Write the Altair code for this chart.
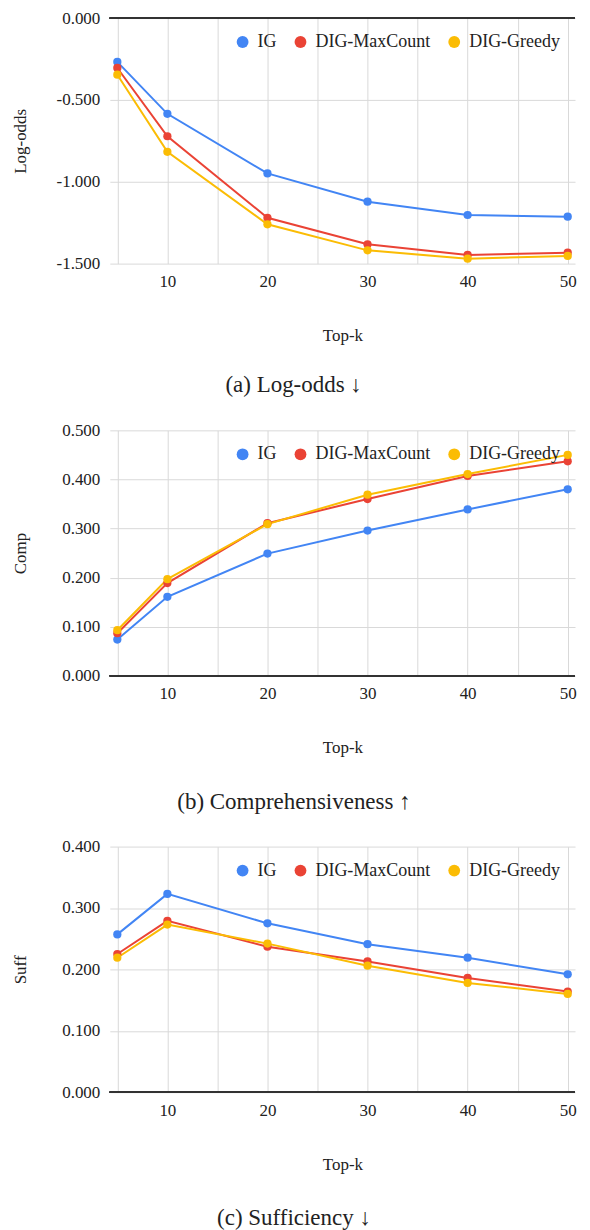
import altair as alt
import pandas as pd

topk = [5, 10, 20, 30, 40, 50]
methods = ["IG", "DIG-MaxCount", "DIG-Greedy"]
colors = ["#4285F4", "#EA4335", "#FBBC04"]

logodds_ig = [-0.268, -0.585, -0.949, -1.122, -1.203, -1.213]
logodds_maxcount = [-0.305, -0.722, -1.220, -1.382, -1.447, -1.433]
logodds_greedy = [-0.346, -0.817, -1.260, -1.419, -1.470, -1.453]

comp_ig = [0.074, 0.161, 0.249, 0.296, 0.339, 0.380]
comp_maxcount = [0.087, 0.189, 0.311, 0.360, 0.407, 0.437]
comp_greedy = [0.093, 0.197, 0.309, 0.369, 0.411, 0.450]

suff_ig = [0.257, 0.323, 0.275, 0.241, 0.219, 0.192]
suff_maxcount = [0.225, 0.279, 0.237, 0.213, 0.186, 0.164]
suff_greedy = [0.219, 0.273, 0.242, 0.206, 0.178, 0.160]

x_grid_values = [5, 10, 15, 20, 25, 30, 35, 40, 45, 50]

FONT = "'Liberation Serif', 'Times New Roman', 'DejaVu Serif', 'DejaVu Sans', serif"
TEXT = "#222222"
GRID = "#d9d9d9"


def make_df(ig, mc, gr):
    rows = []
    for name, vals in zip(methods, [ig, mc, gr]):
        for k, v in zip(topk, vals):
            rows.append({"k": k, "v": v, "method": name})
    return pd.DataFrame(rows)


def panel(df, ytitle, ydomain, yvalues, caption, title_pad, legend_x, cap_offset):
    x = alt.X(
        "k:Q",
        scale=alt.Scale(domain=[4.25, 50.73], nice=False, zero=False),
        axis=alt.Axis(
            values=x_grid_values,
            labelExpr="datum.value % 10 == 0 ? format(datum.value, 'd') : ''",
            title="Top-k",
            ticks=False,
            domain=False,
            grid=True,
            gridColor=GRID,
            labelPadding=10,
            titlePadding=38,
        ),
    )
    y = alt.Y(
        "v:Q",
        scale=alt.Scale(domain=ydomain, nice=False, zero=False),
        axis=alt.Axis(
            values=yvalues,
            labelExpr="replace(format(datum.value, '.3f'), '\u2212', '-')",
            title=ytitle,
            ticks=False,
            domain=False,
            grid=True,
            gridColor=GRID,
            labelPadding=10,
            titlePadding=title_pad,
        ),
    )
    color_scale = alt.Scale(domain=methods, range=colors)
    base = alt.Chart(df)
    zero = base.mark_rule(color="#333333", strokeWidth=1.3).encode(y=alt.datum(0))
    lines = base.mark_line(strokeWidth=2).encode(
        x=x, y=y, color=alt.Color("method:N", scale=color_scale, sort=methods, legend=None)
    )
    points = base.mark_circle(size=68, opacity=1).encode(
        x=x,
        y=y,
        color=alt.Color(
            "method:N",
            scale=color_scale,
            sort=methods,
            legend=alt.Legend(
                title=None,
                orient="none",
                legendX=legend_x,
                legendY=15,
                direction="horizontal",
                symbolType="circle",
                symbolSize=140,
                symbolStrokeWidth=0,
                symbolOpacity=1,
                labelFont=FONT,
                labelFontSize=18,
                labelColor=TEXT,
                labelOffset=6,
                columnPadding=15,
                padding=0,
                labelLimit=300,
            ),
        ),
    )
    return (
        alt.layer(zero, lines, points)
        .resolve_legend(color="independent")
        .properties(
            width=466,
            height=246,
            title=alt.TitleParams(
                text=caption,
                orient="bottom",
                anchor="middle",
                frame="bounds",
                font=FONT,
                fontSize=23,
                fontWeight="normal",
                color=TEXT,
                offset=cap_offset,
            ),
        )
    )


p1 = panel(
    make_df(logodds_ig, logodds_maxcount, logodds_greedy),
    "Log-odds",
    [-1.5, 0.0],
    [-1.5, -1.0, -0.5, 0.0],
    "(a) Log-odds \u2193",
    27,
    124,
    31,
)
p2 = panel(
    make_df(comp_ig, comp_maxcount, comp_greedy),
    "Comp",
    [0.0, 0.5],
    [0.0, 0.1, 0.2, 0.3, 0.4, 0.5],
    "(b) Comprehensiveness \u2191",
    32,
    124,
    35,
)
p3 = panel(
    make_df(suff_ig, suff_maxcount, suff_greedy),
    "Suff",
    [0.0, 0.4],
    [0.0, 0.1, 0.2, 0.3, 0.4],
    "(c) Sufficiency \u2193",
    32,
    124,
    35,
)

chart = (
    alt.vconcat(p1, p2, p3, spacing=24)
    .properties(padding={"top": 0, "left": 3, "right": 5, "bottom": 0})
    .configure(font=FONT)
    .configure_view(stroke=None)
    .configure_axis(
        labelFont=FONT,
        labelFontSize=17,
        labelColor=TEXT,
        titleFont=FONT,
        titleFontSize=17,
        titleFontWeight="normal",
        titleColor=TEXT,
    )
)

chart.save("out.html", embed_options={"renderer": "svg", "actions": False})
